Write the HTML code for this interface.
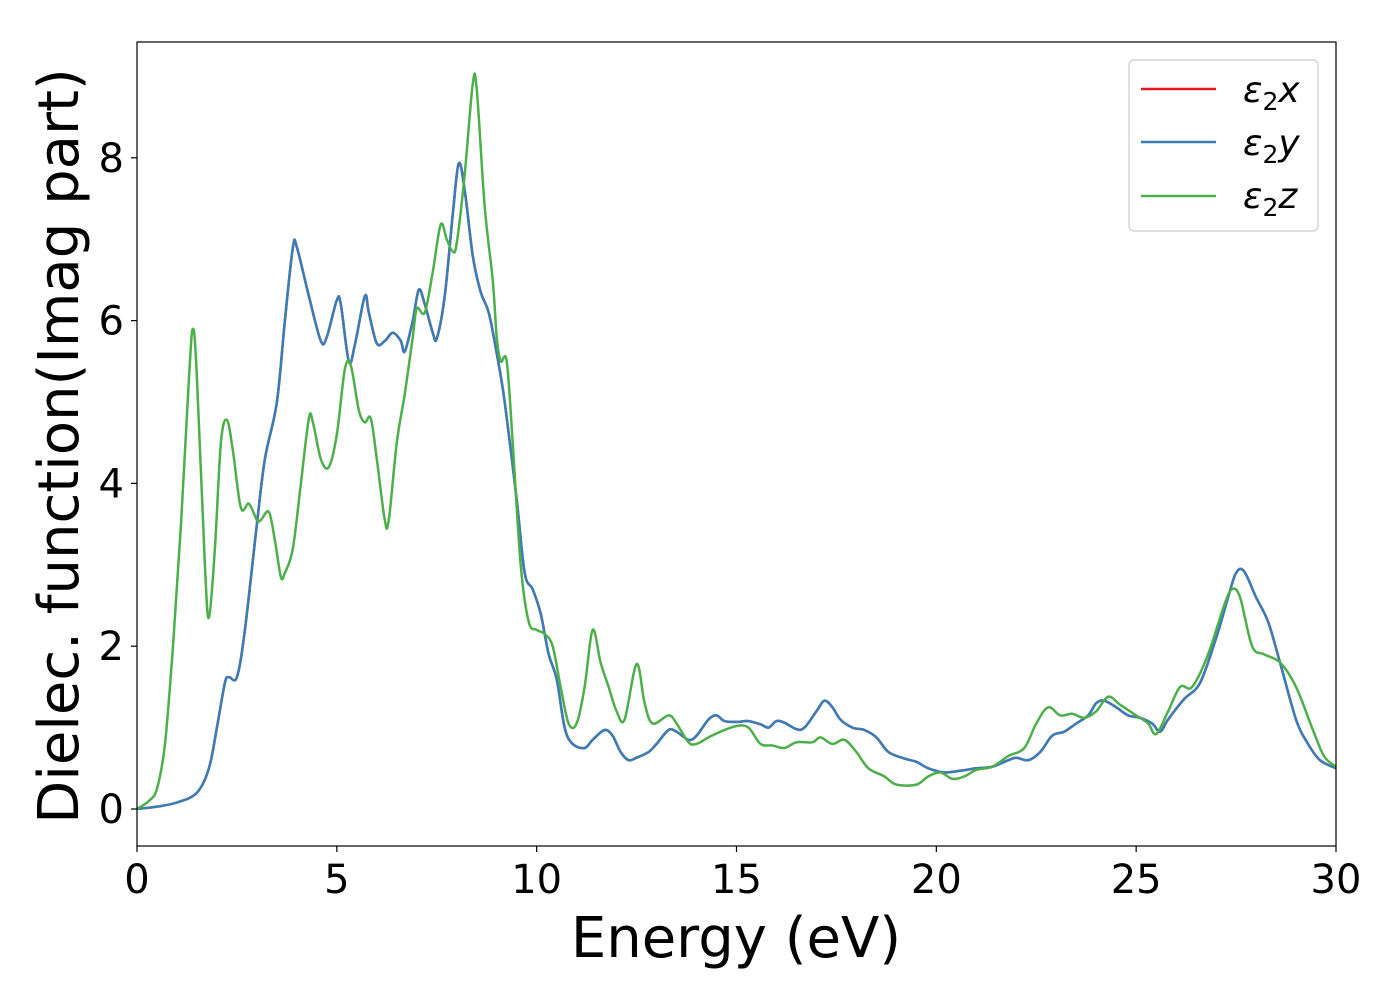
<!DOCTYPE html>
<html><head><meta charset="utf-8"><style>
body{margin:0;background:#fff;}
svg{display:block;font-family:"DejaVu Sans","Liberation Sans",sans-serif;}
</style></head><body>
<svg id="chart" width="1400" height="1000" xmlns="http://www.w3.org/2000/svg">
<rect x="0" y="0" width="1400" height="1000" fill="#fff"/>
<g id="series"></g>
<rect x="137" y="42" width="1199" height="804" fill="none" stroke="#000" stroke-width="1.2"/>
<g id="xticks"></g>
<g id="yticks"></g>
<text x="736" y="957" font-size="56" text-anchor="middle">Energy (eV)</text>
<text transform="translate(78,446) rotate(-90)" font-size="56" text-anchor="middle">Dielec. function(Imag part)</text>
<g>
<rect x="1129" y="60" width="189" height="171" rx="5" fill="#fff" fill-opacity="0.8" stroke="#ccc" stroke-width="1.2"/>
<line x1="1141" y1="89" x2="1216" y2="89" stroke="#e41a1c" stroke-width="2.5"/>
<line x1="1141" y1="142" x2="1216" y2="142" stroke="#377eb8" stroke-width="2.5"/>
<line x1="1141" y1="196" x2="1216" y2="196" stroke="#4daf4a" stroke-width="2.5"/>
<text x="1243" y="102" font-size="36" font-style="italic">ε<tspan font-style="normal" font-size="25" dy="8">2</tspan><tspan dy="-8">x</tspan></text>
<text x="1243" y="155" font-size="36" font-style="italic">ε<tspan font-style="normal" font-size="25" dy="8">2</tspan><tspan dy="-8">y</tspan></text>
<text x="1243" y="208" font-size="36" font-style="italic">ε<tspan font-style="normal" font-size="25" dy="8">2</tspan><tspan dy="-8">z</tspan></text>
</g>
</svg>
<script>
const xTicks=[0,5,10,15,20,25,30];
const yTicks=[0,2,4,6,8];
const energyXY=[0,0.5,1,1.5,1.8,2.0,2.2,2.3,2.5,2.7,3.0,3.2,3.5,3.7,3.9,4.0,4.3,4.6,4.75,5.0,5.1,5.3,5.45,5.7,5.8,6.0,6.2,6.4,6.6,6.7,6.9,7.05,7.2,7.4,7.5,7.7,7.9,8.05,8.2,8.4,8.6,8.8,9.0,9.2,9.5,9.7,9.9,10.1,10.3,10.5,10.7,10.9,11.2,11.4,11.7,11.9,12.1,12.3,12.5,12.8,13.0,13.3,13.5,13.8,14.0,14.3,14.5,14.7,15.0,15.3,15.6,15.8,16.0,16.2,16.5,16.7,17.0,17.2,17.4,17.6,17.9,18.2,18.5,18.8,19.2,19.5,19.8,20.2,20.6,21.0,21.4,21.8,22.0,22.3,22.6,22.9,23.2,23.5,23.8,24.0,24.2,24.5,24.8,25.1,25.4,25.6,25.8,26.2,26.6,27.0,27.3,27.5,27.7,28.0,28.3,28.6,29.0,29.3,29.6,30];
const eps2x=[0,0.03,0.08,0.2,0.5,1.0,1.55,1.62,1.62,2.2,3.5,4.3,5.0,6.0,6.9,6.9,6.3,5.75,5.8,6.25,6.2,5.5,5.7,6.3,6.1,5.72,5.75,5.85,5.75,5.62,6.0,6.38,6.2,5.85,5.78,6.3,7.3,7.93,7.6,6.8,6.35,6.1,5.6,5.0,3.8,2.9,2.7,2.4,1.9,1.6,1.0,0.8,0.75,0.85,0.97,0.9,0.7,0.6,0.63,0.7,0.8,0.97,0.95,0.85,0.9,1.1,1.15,1.08,1.07,1.08,1.04,1.0,1.08,1.06,0.98,1.0,1.2,1.33,1.25,1.1,1.0,0.97,0.88,0.7,0.62,0.58,0.5,0.45,0.47,0.5,0.52,0.6,0.63,0.6,0.7,0.9,0.95,1.05,1.15,1.3,1.33,1.25,1.15,1.12,1.05,0.95,1.1,1.35,1.55,2.1,2.6,2.9,2.92,2.6,2.3,1.8,1.1,0.8,0.6,0.5];
const eps2y=eps2x.slice();
const energyZ=[0,0.3,0.5,0.7,0.9,1.1,1.3,1.4,1.5,1.7,1.8,1.95,2.1,2.25,2.4,2.6,2.8,3.0,3.1,3.3,3.45,3.6,3.7,3.9,4.1,4.3,4.4,4.6,4.8,5.0,5.2,5.35,5.55,5.7,5.85,6.0,6.2,6.3,6.5,6.7,6.9,7.0,7.2,7.4,7.6,7.75,7.9,8.0,8.2,8.4,8.5,8.7,8.9,9.0,9.1,9.25,9.4,9.6,9.8,10.0,10.2,10.4,10.6,10.8,11.0,11.2,11.4,11.6,11.8,12.0,12.2,12.5,12.7,12.9,13.3,13.5,13.8,14.0,14.3,14.6,15.0,15.3,15.6,15.9,16.2,16.5,16.9,17.1,17.4,17.7,18.0,18.3,18.7,19.0,19.5,19.8,20.1,20.4,20.7,21.0,21.4,21.8,22.2,22.5,22.8,23.1,23.4,23.7,24.0,24.3,24.6,25.0,25.3,25.5,25.8,26.1,26.4,26.8,27.2,27.4,27.6,27.9,28.2,28.6,29.0,29.4,29.7,30];
const eps2z=[0,0.1,0.25,0.8,2.0,3.5,5.3,5.9,5.3,3.0,2.35,3.2,4.5,4.78,4.4,3.7,3.75,3.55,3.55,3.65,3.3,2.85,2.9,3.2,4.0,4.8,4.75,4.3,4.2,4.6,5.4,5.45,4.9,4.75,4.8,4.3,3.55,3.55,4.5,5.1,5.8,6.15,6.1,6.6,7.18,7.0,6.85,6.95,7.8,8.9,8.85,7.4,6.5,5.8,5.5,5.5,4.5,3.0,2.3,2.2,2.15,2.0,1.5,1.05,1.05,1.5,2.2,1.8,1.5,1.2,1.1,1.78,1.3,1.05,1.15,1.05,0.82,0.8,0.88,0.95,1.02,1.0,0.8,0.78,0.75,0.82,0.82,0.88,0.8,0.85,0.7,0.5,0.4,0.3,0.3,0.4,0.45,0.37,0.4,0.48,0.52,0.65,0.75,1.05,1.25,1.15,1.17,1.12,1.2,1.38,1.28,1.15,1.05,0.92,1.2,1.5,1.5,1.9,2.5,2.7,2.6,2.0,1.9,1.8,1.5,1.0,0.65,0.52];

const NS="http://www.w3.org/2000/svg";
const X0=137,X1=1336,YB=809,YPER=81.4;
function sx(v){return X0+(v/30)*(X1-X0);}
function sy(v){return YB-v*YPER;}
function pathFor(xs,ys){
  const p=xs.map((x,i)=>[sx(x),sy(ys[i])]);
  let d="M"+p[0][0].toFixed(1)+","+p[0][1].toFixed(1);
  for(let i=0;i<p.length-1;i++){
    const a=p[Math.max(0,i-1)],b=p[i],c=p[i+1],e=p[Math.min(p.length-1,i+2)];
    const c1=[b[0]+(c[0]-a[0])/6,b[1]+(c[1]-a[1])/6];
    const c2=[c[0]-(e[0]-b[0])/6,c[1]-(e[1]-b[1])/6];
    d+="C"+c1[0].toFixed(1)+","+c1[1].toFixed(1)+" "+c2[0].toFixed(1)+","+c2[1].toFixed(1)+" "+c[0].toFixed(1)+","+c[1].toFixed(1);
  }
  return d;
}
const g=document.getElementById("series");
function addLine(xs,ys,color,name){
  const el=document.createElementNS(NS,"path");
  el.setAttribute("d",pathFor(xs,ys));
  el.setAttribute("fill","none");
  el.setAttribute("stroke",color);
  el.setAttribute("stroke-width","2.5");
  el.setAttribute("stroke-linejoin","round");
  
  
  g.appendChild(el);
}
addLine(energyXY,eps2x,"#e41a1c","series-eps2x");
addLine(energyXY,eps2y,"#377eb8","series-eps2y");
addLine(energyZ,eps2z,"#4daf4a","series-eps2z");

const xg=document.getElementById("xticks");
xTicks.forEach(v=>{
  const l=document.createElementNS(NS,"line");
  l.setAttribute("x1",sx(v));l.setAttribute("x2",sx(v));
  l.setAttribute("y1",846);l.setAttribute("y2",852);
  l.setAttribute("stroke","#000");l.setAttribute("stroke-width","1.2");
  
  
  xg.appendChild(l);
  const t=document.createElementNS(NS,"text");
  t.setAttribute("x",sx(v));t.setAttribute("y",893);
  t.setAttribute("font-size","40");t.setAttribute("text-anchor","middle");
  t.textContent=v;
  
  
  xg.appendChild(t);
});
const yg=document.getElementById("yticks");
yTicks.forEach(v=>{
  const l=document.createElementNS(NS,"line");
  l.setAttribute("x1",131);l.setAttribute("x2",137);
  l.setAttribute("y1",sy(v));l.setAttribute("y2",sy(v));
  l.setAttribute("stroke","#000");l.setAttribute("stroke-width","1.2");
  
  
  yg.appendChild(l);
  const t=document.createElementNS(NS,"text");
  t.setAttribute("x",124);t.setAttribute("y",sy(v)+14);
  t.setAttribute("font-size","40");t.setAttribute("text-anchor","end");
  t.textContent=v;
  
  
  yg.appendChild(t);
});
</script>
</body></html>
